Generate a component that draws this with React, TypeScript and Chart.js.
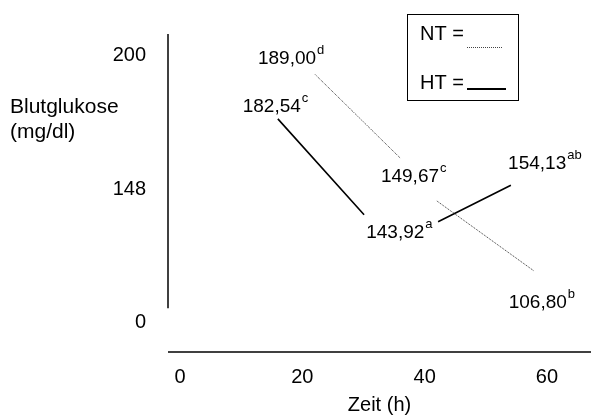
import React, { useEffect, useRef } from "react";
import { Chart, registerables, LinearScale } from "chart.js";

Chart.register(...registerables);

const FONT = "'Liberation Sans', Arial, sans-serif";

// Time axis ticks (h) and glucose axis ticks (mg/dl)
const xTickValues = [0, 20, 40, 60];
const yTickValues = [0, 148, 200];

// NT (dotted) segments: points 0-1 and 2-3
const ntTimes = [22.1, 36.1, 42.0, 57.9];
const ntGlucose = [192.7, 159.9, 134.8, 57.0];
// HT (solid) segments: points 0-1 and 2-3
const htTimes = [16.0, 30.1, 42.2, 54.1];
const htGlucose = [175.4, 119.5, 111.8, 149.5];

// Value annotations
const labelTexts = ["189,00", "182,54", "149,67", "143,92", "154,13", "106,80"];
const labelSups = ["d", "c", "c", "a", "ab", "b"];
const labelTimes = [17.5, 15.0, 37.6, 35.2, 58.4, 58.5];
const labelGlucose = [199.6, 180.7, 153.4, 100.9, 158.4, 24.1];

const legendNames = ["NT =", "HT ="];

const Y_BREAK = 148;
const Y_TOP = 200;
function toU(v: number) {
  return v <= Y_BREAK ? v / Y_BREAK : 1 + (v - Y_BREAK) / (Y_TOP - Y_BREAK);
}
function fromU(u: number) {
  return u <= 1 ? u * Y_BREAK : Y_BREAK + (u - 1) * (Y_TOP - Y_BREAK);
}

class BrokenScale extends (LinearScale as any) {
  static id = "broken";
  static defaults = (LinearScale as any).defaults;
  getPixelForValue(value: any) {
    if (value === null || value === undefined || isNaN(value)) return NaN;
    const a = toU(this.min);
    const b = toU(this.max);
    return this.getPixelForDecimal((toU(value) - a) / (b - a));
  }
  getValueForPixel(pixel: number) {
    const a = toU(this.min);
    const b = toU(this.max);
    return fromU(a + this.getDecimalForPixel(pixel) * (b - a));
  }
}
Chart.register(BrokenScale as any);

function segments(xs: number[], ys: number[]) {
  return [
    { x: xs[0], y: ys[0] },
    { x: xs[1], y: ys[1] },
    { x: (xs[1] + xs[2]) / 2, y: null },
    { x: xs[2], y: ys[2] },
    { x: xs[3], y: ys[3] },
  ];
}

const decorPlugin = {
  id: "decor",
  afterDraw(chart: any) {
    const ctx = chart.ctx;
    const { chartArea } = chart;
    const xs = chart.scales.x;
    const ys = chart.scales.y;
    ctx.save();
    ctx.fillStyle = "#000";
    ctx.strokeStyle = "#000";

    // axis lines
    ctx.lineWidth = 1.5;
    ctx.beginPath();
    ctx.moveTo(chartArea.left, chartArea.top);
    ctx.lineTo(chartArea.left, ys.getPixelForValue(0) - 14);
    ctx.stroke();
    ctx.beginPath();
    ctx.moveTo(chartArea.left, chartArea.bottom);
    ctx.lineTo(chartArea.right, chartArea.bottom);
    ctx.stroke();

    // y title (horizontal)
    ctx.font = `21px ${FONT}`;
    ctx.textAlign = "left";
    ctx.textBaseline = "alphabetic";
    ctx.fillText("Blutglukose", 10, chartArea.top + 79);
    ctx.fillText("(mg/dl)", 10, chartArea.top + 104);

    // value labels
    for (let i = 0; i < labelTexts.length; i++) {
      const px = xs.getPixelForValue(labelTimes[i]);
      const py = ys.getPixelForValue(labelGlucose[i]);
      ctx.font = `19px ${FONT}`;
      ctx.textAlign = "center";
      const base = py + 7;
      ctx.fillText(labelTexts[i], px, base);
      const w = ctx.measureText(labelTexts[i]).width;
      ctx.font = `13px ${FONT}`;
      ctx.textAlign = "left";
      ctx.fillText(labelSups[i], px + w / 2 + 1, base - 10);
    }

    // legend box
    const bx = 407, by = 14, bw = 111, bh = 86;
    ctx.lineWidth = 1;
    ctx.strokeRect(bx + 0.5, by + 0.5, bw, bh);
    ctx.font = `20px ${FONT}`;
    ctx.textAlign = "left";
    ctx.fillText(legendNames[0], bx + 13, by + 26);
    ctx.fillText(legendNames[1], bx + 13, by + 75);
    ctx.lineWidth = 1;
    ctx.setLineDash([1, 1]);
    ctx.strokeStyle = "#444";
    ctx.beginPath();
    ctx.moveTo(bx + 60, by + 33.5);
    ctx.lineTo(bx + 96, by + 33.5);
    ctx.stroke();
    ctx.setLineDash([]);
    ctx.strokeStyle = "#000";
    ctx.lineWidth = 2;
    ctx.beginPath();
    ctx.moveTo(bx + 60, by + 75);
    ctx.lineTo(bx + 99, by + 75);
    ctx.stroke();
    ctx.restore();
  },
};

export default function App() {
  const ref = useRef<HTMLCanvasElement>(null);
  useEffect(() => {
    if (!ref.current) return;
    const chart = new Chart(ref.current, {
      type: "line",
      data: {
        datasets: [
          {
            label: "NT",
            data: segments(ntTimes, ntGlucose) as any,
            borderColor: "#333",
            borderWidth: 1,
            borderDash: [1, 1],
            pointRadius: 0,
            spanGaps: false,
            tension: 0,
          },
          {
            label: "HT",
            data: segments(htTimes, htGlucose) as any,
            borderColor: "#000",
            borderWidth: 1.6,
            pointRadius: 0,
            spanGaps: false,
            tension: 0,
          },
        ],
      },
      options: {
        animation: false,
        responsive: false,
        layout: { padding: { top: 29, right: 0, bottom: 0, left: 0 } },
        plugins: { legend: { display: false }, tooltip: { enabled: false } },
        scales: {
          x: {
            type: "linear",
            min: -1.96,
            max: 67.2,
            afterBuildTicks: (s: any) => {
              s.ticks = xTickValues.map((v) => ({ value: v }));
            },
            afterFit: (s: any) => {
              s.height = 65;
            },
            grid: { display: false, drawTicks: false },
            border: { display: false },
            ticks: { padding: 13, color: "#000", font: { family: FONT, size: 20 } },
            title: {
              display: true,
              text: "Zeit (h)",
              color: "#000",
              font: { family: FONT, size: 20 },
              padding: { top: 0, bottom: 0 },
            },
          },
          y: {
            type: "broken" as any,
            min: -32.9,
            max: 208.5,
            afterBuildTicks: (s: any) => {
              s.ticks = yTickValues.map((v) => ({ value: v }));
            },
            afterFit: (s: any) => {
              s.width = 168;
            },
            grid: { display: false, drawTicks: false },
            border: { display: false },
            ticks: { padding: 22, color: "#000", font: { family: FONT, size: 20 } },
          },
        },
      },
      plugins: [decorPlugin],
    });
    return () => chart.destroy();
  }, []);
  return (
    <div style={{ position: "fixed", left: 0, top: 0, width: 591, height: 417, background: "#fff" }}>
      <canvas ref={ref} width={591} height={417} style={{ display: "block" }} />
    </div>
  );
}
